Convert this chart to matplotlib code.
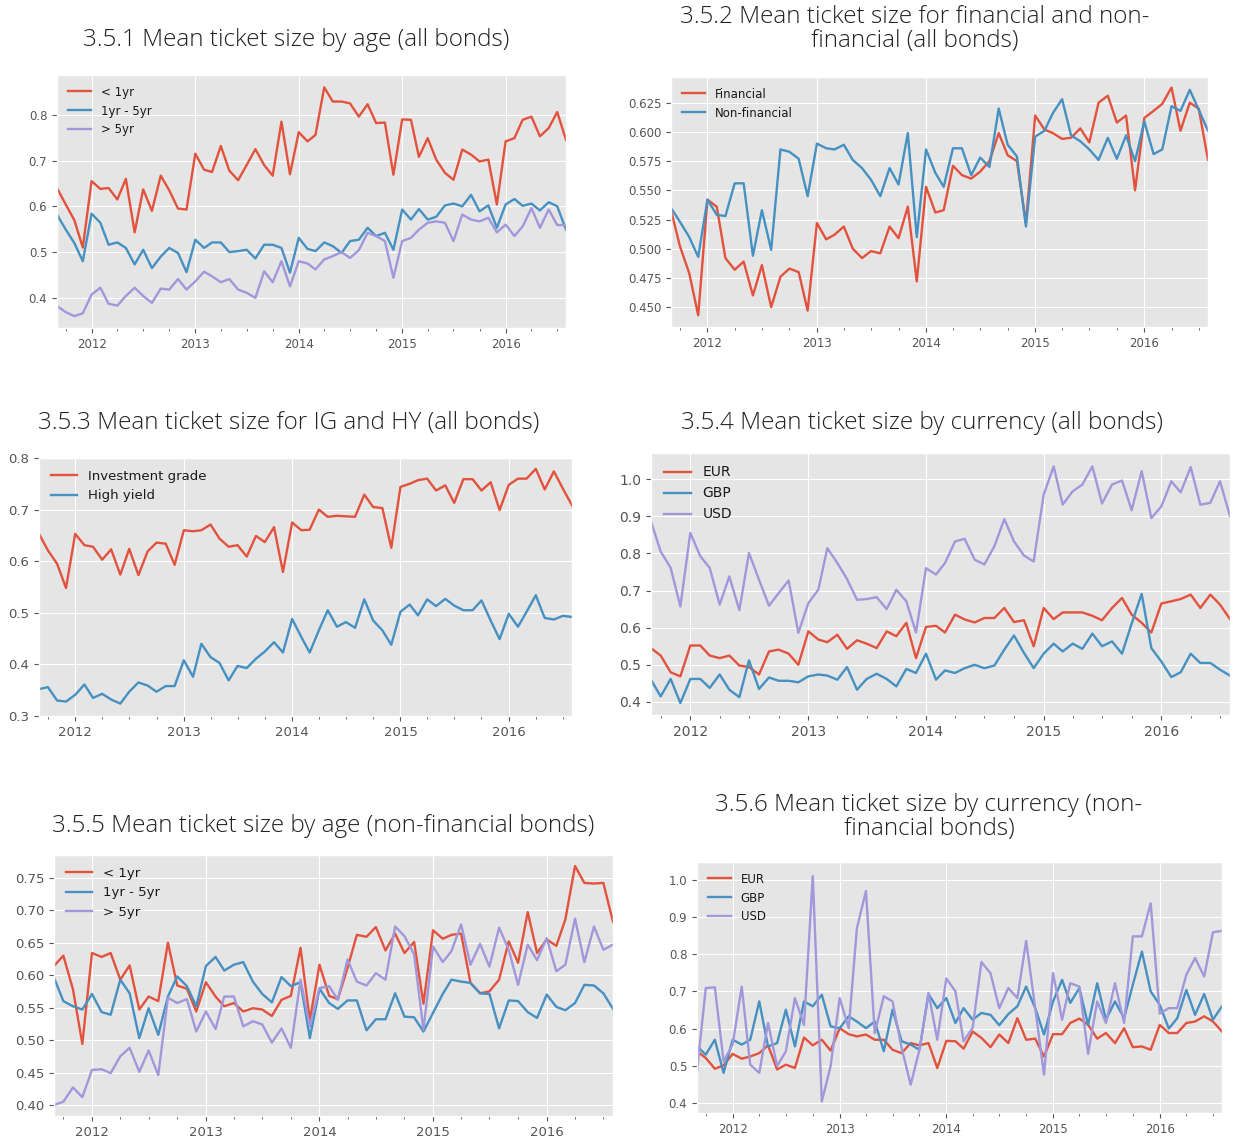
import pandas as pd
import matplotlib
matplotlib.use("Agg")
import matplotlib.pyplot as plt
import matplotlib.dates as mdates
from matplotlib.ticker import FormatStrFormatter

plt.style.use("ggplot")

# monthly observations, Sep 2011 .. Aug 2016
months = pd.date_range("2011-09-01", periods=60, freq="MS")

# ── 3.5.1 mean ticket size by age (all bonds) ─────────────────────
age_all_lt1 = [0.64, 0.605, 0.57, 0.51, 0.655, 0.638, 0.64, 0.615, 0.66, 0.543,
               0.637, 0.59, 0.667, 0.635, 0.595, 0.593, 0.715, 0.68, 0.675, 0.732,
               0.678, 0.657, 0.69, 0.725, 0.69, 0.667, 0.785, 0.67, 0.762, 0.742,
               0.756, 0.86, 0.829, 0.829, 0.825, 0.796, 0.823, 0.782, 0.783, 0.669,
               0.79, 0.789, 0.708, 0.749, 0.702, 0.673, 0.658, 0.724, 0.713, 0.698,
               0.702, 0.604, 0.742, 0.749, 0.789, 0.796, 0.753, 0.771, 0.806, 0.745]
age_all_1to5 = [0.582, 0.55, 0.52, 0.48, 0.584, 0.564, 0.516, 0.521, 0.509, 0.473,
                0.505, 0.465, 0.49, 0.509, 0.498, 0.456, 0.527, 0.509, 0.521, 0.521,
                0.5, 0.502, 0.505, 0.486, 0.516, 0.516, 0.509, 0.455, 0.531, 0.507,
                0.502, 0.521, 0.513, 0.498, 0.524, 0.527, 0.553, 0.535, 0.542, 0.505,
                0.593, 0.571, 0.594, 0.571, 0.577, 0.602, 0.606, 0.6, 0.625, 0.589,
                0.602, 0.553, 0.604, 0.616, 0.601, 0.606, 0.591, 0.609, 0.6, 0.549]
age_all_gt5 = [0.382, 0.369, 0.36, 0.366, 0.407, 0.422, 0.387, 0.383, 0.404, 0.422,
               0.404, 0.389, 0.42, 0.418, 0.441, 0.418, 0.436, 0.457, 0.447, 0.434,
               0.441, 0.418, 0.411, 0.4, 0.458, 0.434, 0.48, 0.425, 0.48, 0.475,
               0.462, 0.484, 0.491, 0.5, 0.487, 0.504, 0.542, 0.535, 0.524, 0.444,
               0.524, 0.531, 0.549, 0.564, 0.567, 0.564, 0.524, 0.582, 0.571, 0.567,
               0.575, 0.543, 0.56, 0.535, 0.556, 0.596, 0.553, 0.593, 0.559, 0.559]

# ── 3.5.2 financial vs non-financial ──────────────────────────────
financial = [0.533, 0.502, 0.479, 0.443, 0.542, 0.536, 0.492, 0.482, 0.489, 0.46,
             0.486, 0.45, 0.476, 0.483, 0.48, 0.447, 0.522, 0.508, 0.512, 0.519,
             0.5, 0.492, 0.498, 0.496, 0.519, 0.509, 0.536, 0.472, 0.553, 0.531,
             0.533, 0.571, 0.563, 0.56, 0.566, 0.575, 0.599, 0.58, 0.575, 0.522,
             0.614, 0.602, 0.599, 0.594, 0.595, 0.603, 0.591, 0.625, 0.631, 0.608,
             0.614, 0.55, 0.612, 0.618, 0.624, 0.638, 0.601, 0.625, 0.62, 0.576]
non_financial = [0.535, 0.523, 0.51, 0.493, 0.542, 0.529, 0.528, 0.556, 0.556, 0.494,
                 0.533, 0.499, 0.585, 0.583, 0.577, 0.545, 0.59, 0.586, 0.585, 0.589,
                 0.576, 0.569, 0.559, 0.545, 0.569, 0.555, 0.599, 0.51, 0.585, 0.565,
                 0.553, 0.586, 0.586, 0.563, 0.578, 0.57, 0.62, 0.589, 0.579, 0.519,
                 0.596, 0.601, 0.616, 0.628, 0.597, 0.592, 0.585, 0.576, 0.595, 0.577,
                 0.597, 0.575, 0.609, 0.581, 0.585, 0.622, 0.618, 0.636, 0.619, 0.601]

# ── 3.5.3 IG vs HY ────────────────────────────────────────────────
inv_grade = [0.653, 0.621, 0.595, 0.548, 0.653, 0.631, 0.628, 0.603, 0.623, 0.574,
             0.624, 0.573, 0.619, 0.636, 0.634, 0.593, 0.66, 0.658, 0.66, 0.671,
             0.644, 0.628, 0.631, 0.609, 0.649, 0.637, 0.666, 0.579, 0.675, 0.66,
             0.661, 0.7, 0.686, 0.688, 0.687, 0.686, 0.729, 0.705, 0.703, 0.626,
             0.744, 0.75, 0.757, 0.76, 0.737, 0.747, 0.713, 0.759, 0.759, 0.737,
             0.753, 0.699, 0.748, 0.76, 0.76, 0.779, 0.739, 0.774, 0.741, 0.708]
high_yield = [0.352, 0.356, 0.33, 0.328, 0.341, 0.361, 0.335, 0.343, 0.332, 0.324,
              0.347, 0.365, 0.359, 0.347, 0.358, 0.358, 0.408, 0.376, 0.44, 0.414,
              0.403, 0.369, 0.397, 0.393, 0.411, 0.425, 0.443, 0.423, 0.488, 0.453,
              0.423, 0.466, 0.505, 0.473, 0.482, 0.471, 0.526, 0.485, 0.466, 0.438,
              0.502, 0.516, 0.495, 0.526, 0.513, 0.527, 0.514, 0.505, 0.505, 0.524,
              0.485, 0.449, 0.498, 0.473, 0.502, 0.534, 0.49, 0.487, 0.494, 0.492]

# ── 3.5.4 by currency (all bonds) ─────────────────────────────────
ccy_all_eur = [0.545, 0.525, 0.48, 0.469, 0.552, 0.552, 0.525, 0.518, 0.525, 0.498,
               0.494, 0.474, 0.536, 0.541, 0.53, 0.5, 0.59, 0.568, 0.561, 0.581,
               0.543, 0.566, 0.557, 0.545, 0.59, 0.577, 0.613, 0.518, 0.602, 0.605,
               0.587, 0.635, 0.622, 0.614, 0.626, 0.626, 0.653, 0.615, 0.62, 0.55,
               0.653, 0.623, 0.641, 0.641, 0.641, 0.632, 0.62, 0.653, 0.68, 0.635,
               0.613, 0.587, 0.665, 0.671, 0.677, 0.689, 0.653, 0.689, 0.662, 0.623]
ccy_all_gbp = [0.46, 0.415, 0.462, 0.397, 0.462, 0.462, 0.438, 0.474, 0.433, 0.413,
               0.512, 0.435, 0.466, 0.457, 0.457, 0.453, 0.469, 0.474, 0.471, 0.46,
               0.494, 0.433, 0.462, 0.476, 0.462, 0.442, 0.489, 0.478, 0.53, 0.46,
               0.485, 0.478, 0.491, 0.5, 0.491, 0.498, 0.541, 0.579, 0.532, 0.491,
               0.53, 0.557, 0.536, 0.557, 0.543, 0.584, 0.55, 0.563, 0.53, 0.611,
               0.691, 0.545, 0.509, 0.467, 0.48, 0.53, 0.505, 0.505, 0.487, 0.471]
ccy_all_usd = [0.886, 0.805, 0.761, 0.657, 0.855, 0.792, 0.761, 0.662, 0.738, 0.647,
               0.801, 0.729, 0.659, 0.693, 0.727, 0.586, 0.666, 0.702, 0.814, 0.774,
               0.731, 0.675, 0.677, 0.682, 0.65, 0.702, 0.671, 0.587, 0.76, 0.743,
               0.774, 0.832, 0.839, 0.783, 0.77, 0.819, 0.892, 0.832, 0.794, 0.778,
               0.958, 1.034, 0.931, 0.967, 0.985, 1.034, 0.934, 0.985, 0.996, 0.916,
               1.021, 0.895, 0.926, 0.994, 0.964, 1.032, 0.931, 0.936, 0.994, 0.9]

# ── 3.5.5 by age (non-financial) ──────────────────────────────────
age_nf_lt1 = [0.614, 0.63, 0.578, 0.494, 0.634, 0.628, 0.634, 0.593, 0.615, 0.547,
              0.567, 0.56, 0.65, 0.584, 0.579, 0.544, 0.589, 0.567, 0.552, 0.557,
              0.544, 0.549, 0.547, 0.537, 0.562, 0.568, 0.642, 0.531, 0.616, 0.568,
              0.563, 0.611, 0.662, 0.659, 0.674, 0.638, 0.664, 0.634, 0.651, 0.556,
              0.669, 0.656, 0.662, 0.664, 0.588, 0.572, 0.575, 0.593, 0.652, 0.619,
              0.697, 0.634, 0.655, 0.645, 0.686, 0.768, 0.742, 0.741, 0.742, 0.682]
age_nf_1to5 = [0.596, 0.56, 0.552, 0.547, 0.571, 0.543, 0.539, 0.593, 0.572, 0.503,
               0.549, 0.508, 0.567, 0.598, 0.583, 0.552, 0.614, 0.628, 0.607, 0.616,
               0.62, 0.59, 0.571, 0.558, 0.597, 0.583, 0.589, 0.503, 0.579, 0.557,
               0.548, 0.561, 0.561, 0.515, 0.532, 0.532, 0.572, 0.536, 0.535, 0.513,
               0.542, 0.571, 0.593, 0.59, 0.588, 0.572, 0.571, 0.518, 0.561, 0.56,
               0.543, 0.534, 0.57, 0.551, 0.546, 0.557, 0.585, 0.584, 0.572, 0.548]
age_nf_gt5 = [0.40, 0.405, 0.427, 0.412, 0.454, 0.455, 0.449, 0.475, 0.488, 0.451,
              0.484, 0.446, 0.565, 0.557, 0.563, 0.513, 0.544, 0.517, 0.567, 0.567,
              0.521, 0.529, 0.524, 0.496, 0.518, 0.488, 0.593, 0.521, 0.58, 0.583,
              0.562, 0.624, 0.59, 0.584, 0.603, 0.593, 0.675, 0.66, 0.632, 0.516,
              0.644, 0.62, 0.637, 0.678, 0.616, 0.648, 0.613, 0.673, 0.639, 0.585,
              0.647, 0.623, 0.657, 0.606, 0.616, 0.687, 0.62, 0.675, 0.639, 0.647]

# ── 3.5.6 by currency (non-financial) ─────────────────────────────
ccy_nf_eur = [0.539, 0.521, 0.492, 0.501, 0.532, 0.519, 0.525, 0.534, 0.555, 0.49,
              0.503, 0.494, 0.576, 0.555, 0.57, 0.541, 0.601, 0.585, 0.579, 0.584,
              0.57, 0.57, 0.543, 0.534, 0.561, 0.555, 0.561, 0.494, 0.567, 0.566,
              0.546, 0.592, 0.575, 0.55, 0.584, 0.561, 0.628, 0.57, 0.573, 0.525,
              0.585, 0.585, 0.615, 0.627, 0.61, 0.573, 0.588, 0.561, 0.601, 0.55,
              0.552, 0.543, 0.61, 0.588, 0.588, 0.615, 0.619, 0.633, 0.619, 0.592]
ccy_nf_gbp = [0.552, 0.53, 0.57, 0.481, 0.57, 0.557, 0.57, 0.673, 0.552, 0.561,
              0.651, 0.552, 0.673, 0.66, 0.691, 0.606, 0.601, 0.633, 0.619, 0.601,
              0.619, 0.539, 0.651, 0.566, 0.557, 0.543, 0.693, 0.655, 0.682, 0.615,
              0.655, 0.624, 0.642, 0.637, 0.609, 0.639, 0.66, 0.713, 0.655, 0.584,
              0.673, 0.731, 0.669, 0.709, 0.61, 0.722, 0.624, 0.673, 0.628, 0.718,
              0.807, 0.7, 0.664, 0.6, 0.628, 0.704, 0.637, 0.693, 0.624, 0.66]
ccy_nf_usd = [0.485, 0.709, 0.711, 0.512, 0.557, 0.713, 0.503, 0.481, 0.615, 0.499,
              0.539, 0.682, 0.61, 1.01, 0.404, 0.499, 0.682, 0.601, 0.87, 0.97,
              0.588, 0.687, 0.673, 0.548, 0.449, 0.543, 0.696, 0.57, 0.735, 0.7,
              0.566, 0.602, 0.779, 0.749, 0.655, 0.709, 0.682, 0.836, 0.655, 0.476,
              0.749, 0.624, 0.722, 0.713, 0.532, 0.673, 0.615, 0.722, 0.615, 0.848,
              0.848, 0.937, 0.64, 0.655, 0.655, 0.745, 0.79, 0.74, 0.859, 0.863]

AGE_LABELS = ["< 1yr", "1yr - 5yr", "> 5yr"]
CCY_LABELS = ["EUR", "GBP", "USD"]

# ggplot palette, a touch softer like the scanned panels
RED, BLUE, PURPLE = "#E2523D", "#4690C2", "#A098DA"
W, H = 1234, 1139

fig = plt.figure(figsize=(W / 100, H / 100), dpi=100)
fig.patch.set_facecolor("white")


def px_rect(left, top, right, bottom):
    return [left / W, 1 - bottom / H, (right - left) / W, (bottom - top) / H]


def panel(rect, series, labels, ylim, yticks, yfmt, fs):
    ax = fig.add_axes(px_rect(*rect))
    for vals, lab, c in zip(series, labels, [RED, BLUE, PURPLE]):
        ax.plot(months, vals, color=c, lw=1.7, label=lab)
    ax.set_xlim(months[0], months[-1])
    ax.set_ylim(*ylim)
    ax.set_yticks(yticks)
    ax.yaxis.set_major_formatter(FormatStrFormatter(yfmt))
    ax.xaxis.set_major_locator(mdates.YearLocator())
    ax.xaxis.set_major_formatter(mdates.DateFormatter("%Y"))
    ax.xaxis.set_minor_locator(mdates.MonthLocator(bymonth=[4, 7, 10]))
    ax.tick_params(labelsize=fs, colors="#555555")
    ax.legend(loc="upper left", frameon=False, fontsize=fs, labelcolor="#1a1a1a")
    return ax


def title(x, y, text):
    fig.text(x / W, 1 - y / H, text, ha="center", va="center", fontsize=17.5,
             family="Open Sans", weight="light", color="#222222", linespacing=0.95)


panel((57, 75, 566, 328), [age_all_lt1, age_all_1to5, age_all_gt5], AGE_LABELS,
      (0.334, 0.887), [0.4, 0.5, 0.6, 0.7, 0.8], "%.1f", 8.5)
panel((671, 77, 1208, 327), [financial, non_financial], ["Financial", "Non-financial"],
      (0.433, 0.647), [0.45, 0.475, 0.5, 0.525, 0.55, 0.575, 0.6, 0.625], "%.3f", 8.5)
panel((39, 458, 572, 716), [inv_grade, high_yield], ["Investment grade", "High yield"],
      (0.3, 0.8), [0.3, 0.4, 0.5, 0.6, 0.7, 0.8], "%.1f", 9.5)
panel((651, 453, 1230, 715), [ccy_all_eur, ccy_all_gbp, ccy_all_usd], CCY_LABELS,
      (0.365, 1.07), [0.4, 0.5, 0.6, 0.7, 0.8, 0.9, 1.0], "%.1f", 10)
panel((54, 855, 613, 1116), [age_nf_lt1, age_nf_1to5, age_nf_gt5], AGE_LABELS,
      (0.383, 0.785), [0.4, 0.45, 0.5, 0.55, 0.6, 0.65, 0.7, 0.75], "%.2f", 9.5)
panel((697, 862, 1222, 1113), [ccy_nf_eur, ccy_nf_gbp, ccy_nf_usd], CCY_LABELS,
      (0.373, 1.048), [0.4, 0.5, 0.6, 0.7, 0.8, 0.9, 1.0], "%.1f", 8.5)

title(296, 40, "3.5.1 Mean ticket size by age (all bonds)")
title(915, 29, "3.5.2 Mean ticket size for financial and non-\nfinancial (all bonds)")
title(289, 423, "3.5.3 Mean ticket size for IG and HY (all bonds)")
title(922, 423, "3.5.4 Mean ticket size by currency (all bonds)")
title(323, 826, "3.5.5 Mean ticket size by age (non-financial bonds)")
title(929, 817, "3.5.6 Mean ticket size by currency (non-\nfinancial bonds)")

fig.savefig("out.png", dpi=100)
